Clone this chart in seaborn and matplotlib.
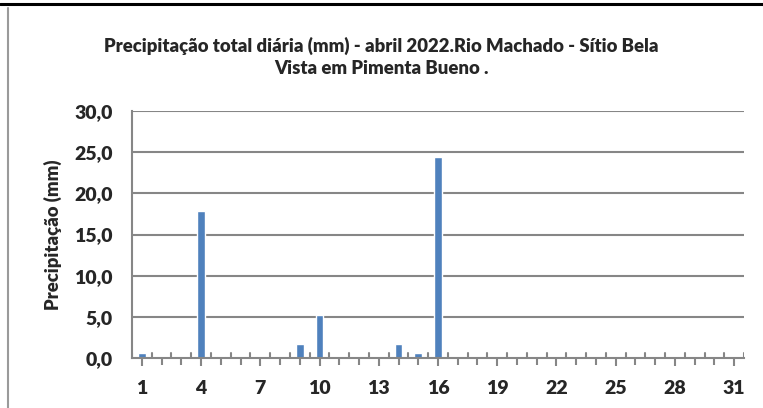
import numpy as np
import pandas as pd
import matplotlib
matplotlib.use("Agg")
import matplotlib.pyplot as plt
from matplotlib.lines import Line2D
from matplotlib.ticker import FixedLocator, FuncFormatter
import seaborn as sns

# ── data: daily rainfall, April 2022 ──────────────────────────
days = list(range(1, 31 + 1))
rain_mm = [0.6, 0.0, 0.0, 17.8, 0.3, 0.1, 0.0, 0.0, 1.7, 5.2,
           0.1, 0.0, 0.0, 1.7, 0.6, 24.4, 0.0, 0.0, 0.0, 0.0,
           0.0, 0.0, 0.0, 0.0, 0.0, 0.0, 0.0, 0.0, 0.0, 0.0, 0.0]
yticks = [0, 5, 10, 15, 20, 25, 30]
xlabels_shown = [1, 4, 7, 10, 13, 16, 19, 22, 25, 28, 31]

TITLE = ("Precipitação total diária (mm) - abril 2022.Rio Machado - Sítio Bela\n"
         "Vista em Pimenta Bueno .")
BAR = "#4F81BD"
GRID = "#868686"

sns.set_theme(style="white")
plt.rcParams["font.family"] = ["Lato", "DejaVu Sans"]

df = pd.DataFrame({"dia": days, "chuva": rain_mm})

fig = plt.figure(figsize=(7.63, 4.08), dpi=100)
ax = fig.add_axes([132 / 763, 50 / 408, 612 / 763, 247 / 408])

sns.barplot(data=df, x="dia", y="chuva", order=days, color=BAR,
            width=0.4, saturation=1, ax=ax)

ax.set_xlim(-0.5, len(days) - 0.5)
ax.set_ylim(0, 30)
for v in yticks[1:]:
    ax.axhline(v, color=GRID, lw=1.5, zorder=0)

ax.yaxis.set_major_locator(FixedLocator(yticks))
ax.yaxis.set_major_formatter(FuncFormatter(lambda v, p: f"{v:.1f}".replace(".", ",")))
ax.tick_params(axis="y", length=0, pad=14, labelsize=14)
for t in ax.get_yticklabels():
    t.set_fontweight("heavy")

# category centres (outward ticks) and boundaries (inward ticks)
ax.set_xticks([days.index(d) for d in xlabels_shown])
ax.set_xticklabels([str(d) for d in xlabels_shown], fontweight="heavy", fontsize=14)
ax.set_xticks(np.arange(len(days)), minor=True)
ax.tick_params(axis="x", which="both", bottom=True)
ax.tick_params(axis="x", which="major", direction="out", length=6, width=1.5,
               color=GRID, pad=10)
ax.tick_params(axis="x", which="minor", direction="out", length=5, width=1.5,
               color=GRID)
for b in np.arange(-0.5, len(days), 1.0):
    ax.axvline(b, ymin=0, ymax=5.5 / 247, color=GRID, lw=1.5, zorder=3)

ax.set_xlabel("")
ax.set_ylabel("Precipitação (mm)", fontweight="heavy", fontsize=13.3, labelpad=9)

for s in ["top", "right"]:
    ax.spines[s].set_visible(False)
for s in ["left", "bottom"]:
    ax.spines[s].set_color(GRID)
    ax.spines[s].set_linewidth(1.5)

fig.text(381 / 763, 1 - 57 / 408, TITLE, ha="center", va="center",
         fontsize=13.3, fontweight="heavy", linespacing=1.4)

# page frame around the embedded chart
fig.add_artist(Line2D([0, 1], [1 - 4 / 408, 1 - 4 / 408], color="black", lw=2.2))
fig.add_artist(Line2D([7.5 / 763, 7.5 / 763], [0, 1 - 8 / 408], color="#9a9a9a", lw=1.5))

fig.savefig("out.png", dpi=100)
